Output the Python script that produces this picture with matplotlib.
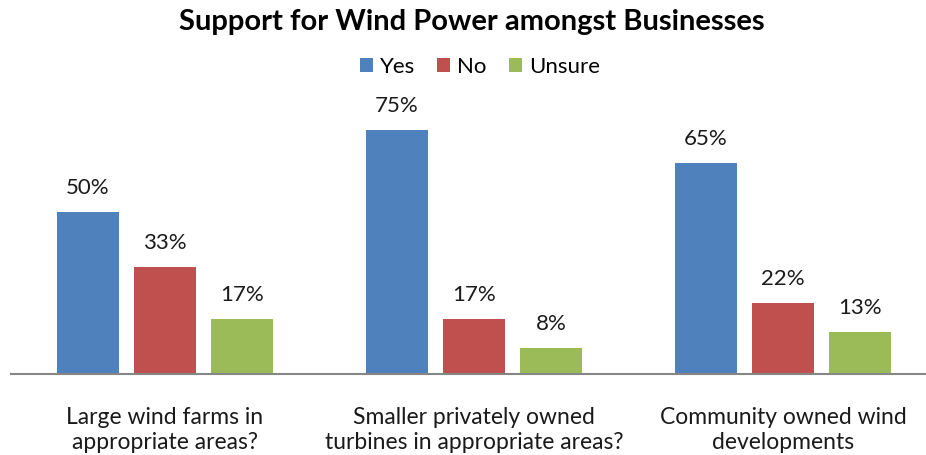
import matplotlib
matplotlib.use("Agg")
from matplotlib import pyplot as plt
import numpy as np

plt.rcParams['font.family'] = ['Lato', 'DejaVu Sans']

categories = ["Large wind farms in\nappropriate areas?",
              "Smaller privately owned\nturbines in appropriate areas?",
              "Community owned wind\ndevelopments"]
series_names = ["Yes", "No", "Unsure"]
yes = [50, 75, 65]
no = [33, 17, 22]
unsure = [17, 8, 13]
colors = ["#4F81BD", "#C0504D", "#9BBB59"]

fig = plt.figure(figsize=(9.26, 4.55), dpi=100)
# plot area runs slightly past the right edge of the figure
ax = fig.add_axes([10.5 / 926, (455 - 374) / 455, 927 / 926, (374 - 114) / 455])

x = np.arange(len(categories))
w = 62 / 309
step = 77 / 309
for i, (name, vals) in enumerate(zip(series_names, [yes, no, unsure])):
    pos = x + (i - 1) * step
    bars = ax.bar(pos, vals, width=w, color=colors[i], label=name, zorder=2)
    for b, v in zip(bars, vals):
        ax.text(b.get_x() + b.get_width() / 2, v + 4.3, f"{v}%",
                ha="center", va="bottom", fontsize=16, color="#1a1a1a")

ax.set_xlim(-0.5, 2.5)
ax.set_ylim(0, 80)
ax.set_yticks([])
ax.set_xticks(x)
ax.set_xticklabels(categories, fontsize=16.5, color="#1a1a1a", linespacing=1.24)
ax.tick_params(axis="x", length=0, pad=24)
for s in ["top", "right", "left"]:
    ax.spines[s].set_visible(False)
ax.spines["bottom"].set_color("#868686")
ax.spines["bottom"].set_linewidth(1.5)

fig.text(0.51, 1 - 22 / 455, "Support for Wind Power amongst Businesses",
         ha="center", va="center", fontsize=21, fontweight="bold")
fig.legend(loc="center", bbox_to_anchor=(0.518, 1 - 67 / 455), ncol=3,
           frameon=False, fontsize=16, handlelength=0.6, handleheight=0.6,
           handletextpad=0.3, columnspacing=1.0)

fig.savefig("out.png", dpi=100)
